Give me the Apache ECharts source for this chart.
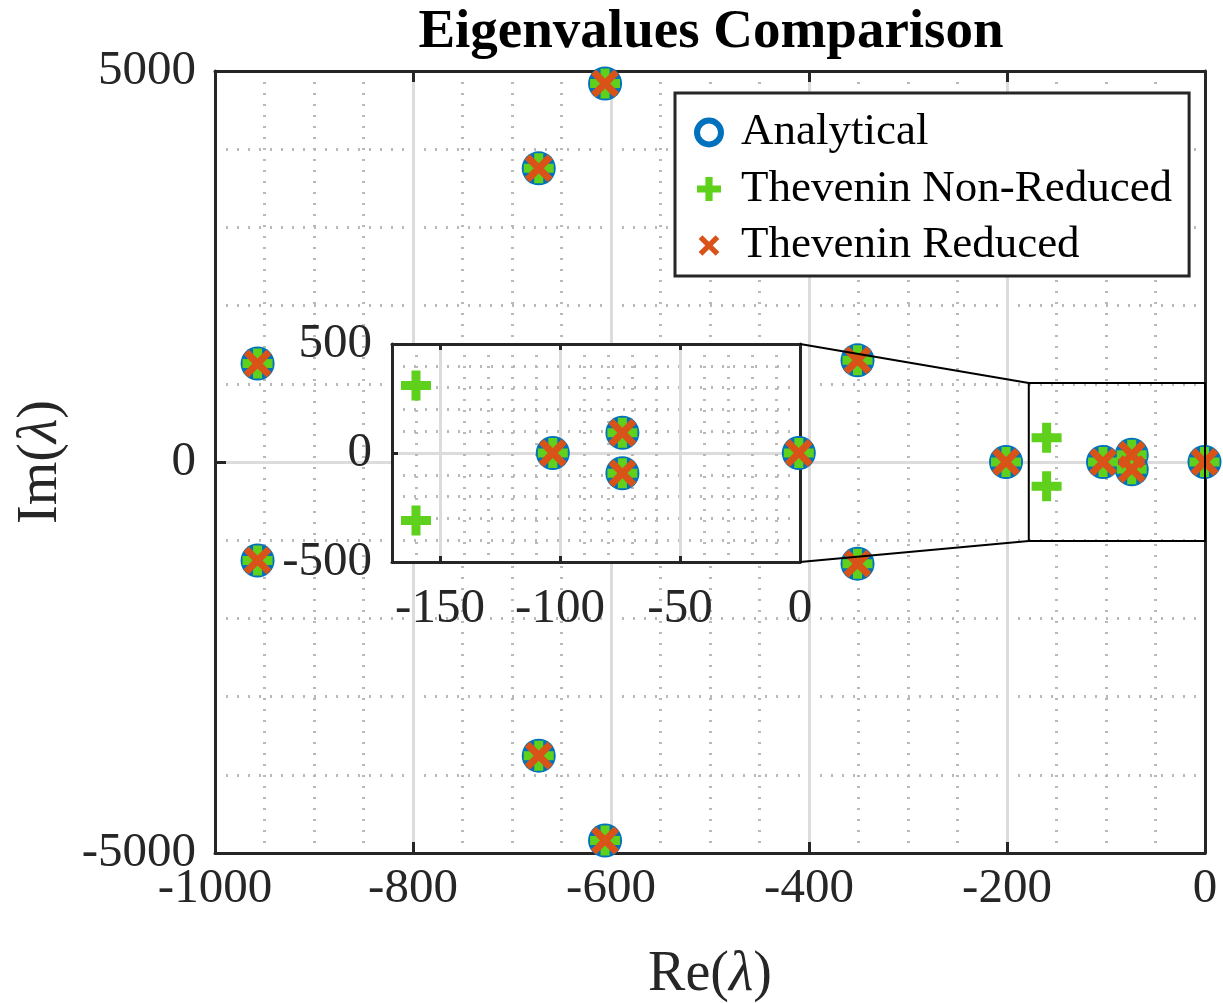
<!DOCTYPE html>
<html>
<head>
<meta charset="utf-8">
<title>Eigenvalues Comparison</title>
<script src="https://cdn.jsdelivr.net/npm/echarts@6/dist/echarts.min.js"></script>
<style>
    html, body { margin:0; padding:0; background:#fff; }
    #eigChart { width:1223px; height:1003px; }
</style>
</head>
<body>
<div id="eigChart"></div>
<script>
    var analyticalRe = [-606, -606, -673, -673, -957, -957, -351, -351, -201, -103, -74, -74, -0.5];
    var analyticalIm = [4840, -4840, 3755, -3755, 1260, -1260, 1300, -1300, 0, 0, 93, -93, 0];
    var nonReducedRe = [-606, -606, -673, -673, -957, -957, -351, -351, -201, -103, -74, -74, -0.5, -160, -160];
    var nonReducedIm = [4840, -4840, 3755, -3755, 1260, -1260, 1300, -1300, 0, 0, 93, -93, 0, 310, -310];
    var reducedRe = [-606, -606, -673, -673, -957, -957, -351, -351, -201, -103, -74, -74, -0.5];
    var reducedIm = [4840, -4840, 3755, -3755, 1260, -1260, 1300, -1300, 0, 0, 93, -93, 0];

    var seriesNames = ['Analytical', 'Thevenin Non-Reduced', 'Thevenin Reduced'];

    // axis ranges
    var mainX = [-1000, 0], mainXStep = 200;
    var mainY = [-5000, 5000], mainYStep = 5000;
    var insetX = [-170, 0], insetXStep = 50;
    var insetY = [-500, 500], insetYStep = 500;
    var zoomBox = [[-178, -1010], [0, 1010]];

    var serif = "'Liberation Serif', 'Times New Roman', serif";
    var ink = '#262626';
    var plusPath = 'path://M3.5,0H6.5V3.5H10V6.5H6.5V10H3.5V6.5H0V3.5H3.5Z';
    var crossPath = 'path://M0,1.8L1.8,0L5,3.2L8.2,0L10,1.8L6.8,5L10,8.2L8.2,10L5,6.8L1.8,10L0,8.2L3.2,5Z';
    var crossLegend = 'path://M-0.8,-0.8M10.8,10.8M0,1.8L1.8,0L5,3.2L8.2,0L10,1.8L6.8,5L10,8.2L8.2,10L5,6.8L1.8,10L0,8.2L3.2,5Z';

    function pairs(re, im){
        return re.map(function(r, i){ return [r, im[i]]; });
    }
    function plain(v){ return String(v); }

    function boxAxis(grid, pos, range, step, tickLen, z){
        return {
            gridIndex: grid, type: 'value', position: pos,
            min: range[0], max: range[1], interval: step, z: z,
            axisLine: {show: true, onZero: false, lineStyle: {color: ink, width: 3}},
            axisTick: {show: true, inside: true, length: tickLen, lineStyle: {color: ink, width: 3}},
            axisLabel: {show: false},
            splitLine: {show: false}
        };
    }

    function labelAxis(grid, pos, range, step, minorSplit, tickLen, margin, z){
        return {
            gridIndex: grid, type: 'value', position: pos,
            min: range[0], max: range[1], interval: step, z: z,
            axisLine: {show: true, onZero: false, lineStyle: {color: ink, width: 3}},
            axisTick: {show: true, inside: true, length: tickLen, lineStyle: {color: ink, width: 3}},
            axisLabel: {fontFamily: serif, fontSize: 49, color: ink, margin: margin, formatter: plain},
            splitLine: {show: true, lineStyle: {color: '#dcdcdc', width: 3}},
            minorTick: {show: false, splitNumber: minorSplit},
            minorSplitLine: {show: true, lineStyle: {color: '#b9b9b9', width: 3, type: [2, 9]}}
        };
    }

    var nameStyle = {
        fontFamily: serif, fontSize: 56, color: ink,
        rich: {l: {fontFamily: serif, fontSize: 56, fontStyle: 'italic', color: ink}}
    };

    var mainXAxis = labelAxis(0, 'bottom', mainX, mainXStep, 4, 11, 12, 0);
    mainXAxis.name = 'Re({l|λ})';
    mainXAxis.nameLocation = 'middle';
    mainXAxis.nameGap = 94;
    mainXAxis.nameTextStyle = nameStyle;

    var mainYAxis = labelAxis(0, 'left', mainY, mainYStep, 5, 11, 19, 0);
    mainYAxis.name = 'Im({l|λ})';
    mainYAxis.nameLocation = 'middle';
    mainYAxis.nameGap = 146;
    mainYAxis.nameTextStyle = nameStyle;

    // inset x: no fixed interval so ticks land on -150, -100, ... instead of starting at -170
    var insetXAxis = labelAxis(1, 'bottom', insetX, null, 5, 6, 23, 3);
    delete insetXAxis.interval;
    insetXAxis.splitNumber = 4;
    insetXAxis.axisLabel.formatter = function(v){ return v % insetXStep === 0 ? String(v) : ''; };
    var insetXTop = boxAxis(1, 'top', insetX, null, 6, 3);
    delete insetXTop.interval;
    insetXTop.splitNumber = 4;

    var insetYAxis = labelAxis(1, 'left', insetY, insetYStep, 5, 6, 20, 3);

    function scatter(name, re, im, symbol, size, color, grid, z){
        return {
            name: name, type: 'scatter',
            xAxisIndex: grid === 0 ? 0 : 2, yAxisIndex: grid === 0 ? 0 : 2,
            data: pairs(re, im),
            symbol: symbol, symbolSize: size,
            itemStyle: {color: color, opacity: 1},
            clip: true, z: z
        };
    }

    var option = {
        animation: false,
        backgroundColor: '#fff',
        title: {
            text: 'Eigenvalues Comparison',
            left: 711, top: 5, padding: 0, textAlign: 'center',
            textStyle: {fontFamily: serif, fontWeight: 'bold', fontSize: 55, color: '#000'}
        },
        legend: {
            orient: 'vertical', left: 675, top: 93,
            padding: [17, 17, 8, 19],
            itemWidth: 24, itemHeight: 24, itemGap: 11.5,
            backgroundColor: '#fff', borderColor: ink, borderWidth: 3, borderRadius: 0,
            selectedMode: false, z: 6,
            textStyle: {fontFamily: serif, fontSize: 45, lineHeight: 45, color: '#000', padding: [0, 0, 0, 15]},
            data: [
                {name: seriesNames[0], icon: 'circle', itemStyle: {color: '#fff', borderColor: '#0072BD', borderWidth: 6}},
                {name: seriesNames[1], icon: plusPath, itemStyle: {color: '#5fd11c'}},
                {name: seriesNames[2], icon: crossLegend, itemStyle: {color: '#D95319'}}
            ]
        },
        grid: [
            {left: 215, right: 18, top: 71, bottom: 150, outerBoundsMode: 'none'},
            {left: 392, top: 344, width: 408, height: 218, outerBoundsMode: 'none'}
        ],
        xAxis: [
            mainXAxis,
            boxAxis(0, 'top', mainX, mainXStep, 11, 0),
            insetXAxis,
            insetXTop
        ],
        yAxis: [
            mainYAxis,
            boxAxis(0, 'right', mainY, mainYStep, 11, 0),
            insetYAxis,
            boxAxis(1, 'right', insetY, insetYStep, 6, 3)
        ],
        series: [
            scatter(seriesNames[0], analyticalRe, analyticalIm, 'circle', 34, '#0072BD', 0, 2),
            scatter(seriesNames[1], nonReducedRe, nonReducedIm, plusPath, 30, '#5fd11c', 0, 2),
            scatter(seriesNames[2], reducedRe, reducedIm, crossPath, 28, '#D95319', 0, 2),
            scatter(seriesNames[0], analyticalRe, analyticalIm, 'circle', 34, '#0072BD', 1, 4),
            scatter(seriesNames[1], nonReducedRe, nonReducedIm, plusPath, 30, '#5fd11c', 1, 4),
            scatter(seriesNames[2], reducedRe, reducedIm, crossPath, 28, '#D95319', 1, 4)
        ]
    };

    var chart = echarts.init(document.getElementById('eigChart'));
    chart.setOption(option);

    // inset frame background, zoom box on the main axes and the two connector lines
    var tl = chart.convertToPixel({gridIndex: 1}, [insetX[0], insetY[1]]);
    var br = chart.convertToPixel({gridIndex: 1}, [insetX[1], insetY[0]]);
    var b0 = chart.convertToPixel({gridIndex: 0}, [zoomBox[0][0], zoomBox[1][1]]);
    var b1 = chart.convertToPixel({gridIndex: 0}, [zoomBox[1][0], zoomBox[0][1]]);

    chart.setOption({
        graphic: [
            {type: 'rect', silent: true, z: 1,
             shape: {x: tl[0], y: tl[1], width: br[0] - tl[0], height: br[1] - tl[1]},
             style: {fill: '#fff'}},
            {type: 'rect', silent: true, z: 5,
             shape: {x: b0[0], y: b0[1], width: b1[0] - b0[0], height: b1[1] - b0[1]},
             style: {fill: null, stroke: '#000', lineWidth: 2}},
            {type: 'line', silent: true, z: 5,
             shape: {x1: br[0], y1: tl[1], x2: b0[0], y2: b0[1]},
             style: {stroke: '#000', lineWidth: 2}},
            {type: 'line', silent: true, z: 5,
             shape: {x1: br[0], y1: br[1], x2: b0[0], y2: b1[1]},
             style: {stroke: '#000', lineWidth: 2}}
        ]
    });
    window.addEventListener('resize', chart.resize);
</script>
</body>
</html>
